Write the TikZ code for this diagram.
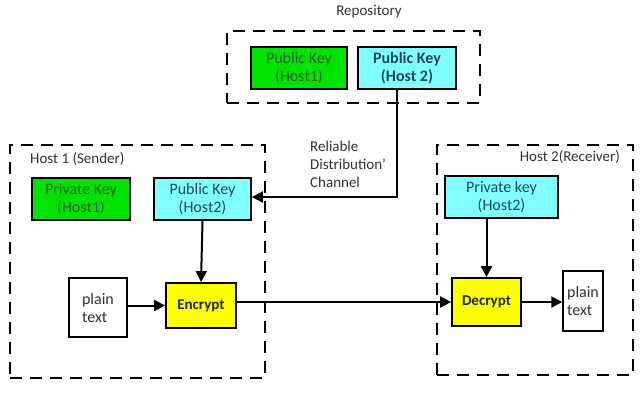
\documentclass[tikz,border=0pt]{standalone}
\usepackage{fontspec}
\setmainfont{Carlito}
\usetikzlibrary{arrows.meta}
\definecolor{kgreen}{RGB}{0,226,0}
\definecolor{kgreentext}{RGB}{30,100,30}
\definecolor{kcyan}{RGB}{128,255,255}
\definecolor{kcyantext}{RGB}{30,70,100}
\definecolor{kyellow}{RGB}{255,255,0}
\definecolor{labeltext}{RGB}{50,50,50}
\tikzset{
  keybox/.style={draw=black, line width=1.8pt, inner sep=0pt, align=center,
    font=\fontsize{16}{18}\selectfont},
  greenkey/.style={keybox, fill=kgreen, text=kgreentext},
  cyankey/.style={keybox, fill=kcyan, text=kcyantext},
  opbox/.style={draw=black, line width=1.8pt, fill=kyellow, inner sep=0pt,
    font=\fontsize{15}{17}\bfseries\selectfont, text=black!85},
  plainbox/.style={draw=black, line width=1.5pt, fill=white, inner sep=0pt, align=left,
    font=\fontsize{16}{18}\selectfont, text=labeltext},
  groupbox/.style={draw=black, line width=2.6pt, dash pattern=on 12pt off 8pt, inner sep=0pt},
  lbl/.style={font=\fontsize{15}{18}\selectfont, text=labeltext, inner sep=0pt},
  conn/.style={draw=black, line width=2pt, -{Triangle[length=11pt,width=11pt]}},
}
\begin{document}
\begin{tikzpicture}[x=1pt,y=-1pt]
\useasboundingbox (0,0) rectangle (644,400);
% group boxes
\node[groupbox, minimum width=253pt, minimum height=72pt] (repo) at (353.5,67) {};
\node[groupbox, minimum width=255pt, minimum height=233pt] (host1) at (137.5,261.5) {};
\node[groupbox, minimum width=196pt, minimum height=230pt] (host2) at (535,260) {};
% titles
\node[lbl] (repotitle) at (369,12) {Repository};
\node[lbl, anchor=west] (h1title) at (30,159) {Host 1 (Sender)};
\node[lbl, anchor=east] (h2title) at (620,157) {Host 2(Receiver)};
\node[lbl, anchor=north west, align=left] (chan) at (310,141) {Reliable\\Distribution'\\Channel};
% repository keys
\node[greenkey, minimum width=96pt, minimum height=42pt] (rpk1) at (299,68) {Public Key\\(Host1)};
\node[cyankey, minimum width=98pt, minimum height=42pt, font=\fontsize{16}{18}\bfseries\selectfont] (rpk2) at (407,68) {Public Key\\(Host 2)};
% host 1
\node[greenkey, minimum width=98pt, minimum height=42pt] (prk1) at (81,199) {Private Key\\(Host1)};
\node[cyankey, minimum width=97pt, minimum height=42pt] (hpk2) at (202.5,199) {Public Key\\(Host2)};
\node[plainbox, minimum width=58pt, minimum height=59pt] (plain1) at (98,307.5) {plain\\text};
\node[opbox, minimum width=70pt, minimum height=45pt] (enc) at (201,305.5) {Encrypt};
% host 2
\node[cyankey, minimum width=113pt, minimum height=42pt] (prk2) at (501.5,197) {Private key\\(Host2)};
\node[opbox, minimum width=69pt, minimum height=48pt] (dec) at (486.5,302) {Decrypt};
\node[plainbox, minimum width=40pt, minimum height=60pt] (plain2) at (583,301) {plain\\text};
% connectors
\coordinate (bend) at (397,197);
\draw[conn] (rpk2.south -| bend) -- (bend) -- (hpk2.east |- bend);
\draw[conn] (hpk2.south) -- (enc.north);
\draw[conn] (plain1.east |- enc.west) -- (enc.west);
\draw[conn] (enc.east |- dec.west) -- (dec.west);
\draw[conn] (prk2.south -| dec.north) -- (dec.north);
\draw[conn] (dec.east) -- (plain2.west |- dec.east);
\end{tikzpicture}
\end{document}
